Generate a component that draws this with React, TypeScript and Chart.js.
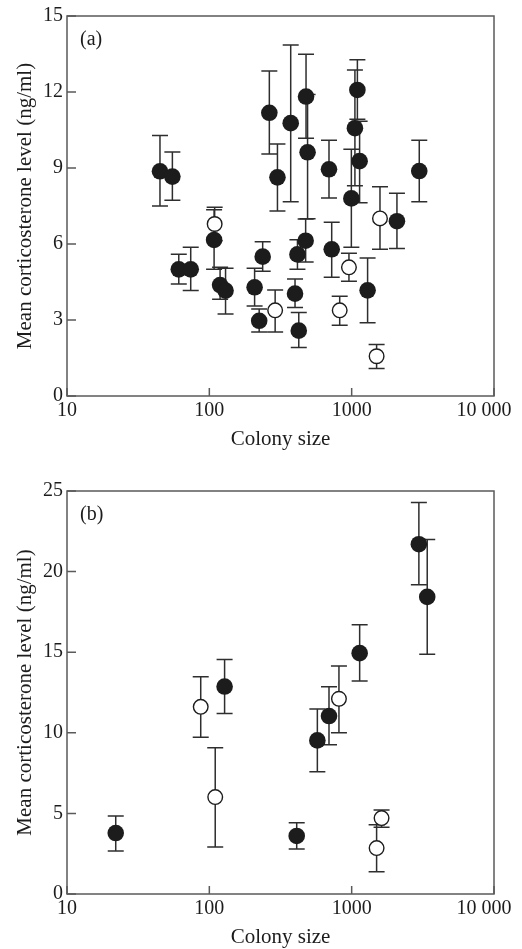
import React, { useEffect, useRef } from 'react';
import { Chart, registerables } from 'chart.js';

Chart.register(...registerables);

const SERIF = "'Liberation Serif', 'Times New Roman', serif";
const INK = '#1c1c1c';
const FRAME = '#5a5a5a';

// ---- shared axis data ----
const xTickValues = [10, 100, 1000, 10000];
const xTickLabels = ['10', '100', '1000', '10 000\u00a0\u00a0\u00a0\u00a0'];
const xTitle = 'Colony size';
const yTitle = 'Mean corticosterone level (ng/ml)';

// ---- panel (a) ----
const aYTicks = [0, 3, 6, 9, 12, 15];
const aFilledSize = [45, 55, 61, 74, 108, 119, 130, 208, 224, 237, 264, 301, 373, 400, 416, 425, 475, 478, 490, 693, 724, 995, 1054, 1097, 1137, 1294, 2080, 2985];
const aFilledMean = [8.87, 8.66, 5.0, 5.0, 6.16, 4.38, 4.16, 4.29, 2.97, 5.5, 11.18, 8.63, 10.77, 4.04, 5.59, 2.58, 6.13, 11.82, 9.62, 8.95, 5.79, 7.8, 10.57, 12.08, 9.27, 4.17, 6.9, 8.88];
const aFilledLow = [7.5, 7.73, 4.42, 4.16, 5.0, 3.82, 3.24, 3.55, 2.53, 4.92, 9.55, 7.3, 7.67, 3.49, 5.0, 1.91, 5.29, 10.17, 7.0, 7.82, 4.69, 5.87, 8.3, 10.92, 7.63, 2.89, 5.82, 7.67];
const aFilledHigh = [10.28, 9.63, 5.6, 5.87, 7.35, 5.08, 5.04, 5.04, 3.43, 6.09, 12.83, 9.95, 13.86, 4.62, 6.17, 3.3, 6.99, 13.49, 11.9, 10.1, 6.86, 9.74, 12.87, 13.27, 10.85, 5.45, 8.0, 10.1];
const aOpenSize = [109, 290, 824, 957, 1497, 1581];
const aOpenMean = [6.79, 3.38, 3.38, 5.08, 1.57, 7.01];
const aOpenLow = [6.13, 2.53, 2.79, 4.53, 1.09, 5.79];
const aOpenHigh = [7.45, 4.18, 3.94, 5.63, 2.03, 8.26];

// ---- panel (b) ----
const bYTicks = [0, 5, 10, 15, 20, 25];
const bFilledSize = [22, 128, 411, 574, 693, 1138, 2966, 3395];
const bFilledMean = [3.78, 12.87, 3.6, 9.53, 11.04, 14.94, 21.7, 18.43];
const bFilledLow = [2.67, 11.2, 2.79, 7.58, 9.26, 13.22, 19.18, 14.88];
const bFilledHigh = [4.84, 14.55, 4.42, 11.47, 12.85, 16.7, 24.28, 21.99];
const bOpenSize = [87, 110, 814, 1497, 1622];
const bOpenMean = [11.61, 6.01, 12.11, 2.85, 4.71];
const bOpenLow = [9.73, 2.91, 10.0, 1.38, 4.14];
const bOpenHigh = [13.47, 9.07, 14.15, 4.3, 5.21];

type Series = { x: number[]; y: number[]; lo: number[]; hi: number[] };

type PanelProps = {
  letter: string;
  yTicks: number[];
  filled: Series;
  open: Series;
  height: number;
  padTop: number;
};

const errorBarPlugin = {
  id: 'errorBars',
  beforeDatasetsDraw(chart: any) {
    const { ctx } = chart;
    const xs = chart.scales.x;
    const ys = chart.scales.y;
    ctx.save();
    ctx.strokeStyle = '#2e2e2e';
    ctx.lineWidth = 1.5;
    chart.data.datasets.forEach((ds: any) => {
      ds.data.forEach((p: any, i: number) => {
        const px = xs.getPixelForValue(p.x);
        const yl = ys.getPixelForValue(ds.errLo[i]);
        const yh = ys.getPixelForValue(ds.errHi[i]);
        ctx.beginPath();
        ctx.moveTo(px, yl);
        ctx.lineTo(px, yh);
        ctx.moveTo(px - 8, yl);
        ctx.lineTo(px + 8, yl);
        ctx.moveTo(px - 8, yh);
        ctx.lineTo(px + 8, yh);
        ctx.stroke();
      });
    });
    ctx.restore();
  },
};

const framePlugin = {
  id: 'frame',
  afterDraw(chart: any) {
    const { ctx, chartArea: a } = chart;
    const xs = chart.scales.x;
    const ys = chart.scales.y;
    ctx.save();
    ctx.strokeStyle = FRAME;
    ctx.lineWidth = 1.5;
    ctx.strokeRect(a.left, a.top, a.right - a.left, a.bottom - a.top);
    ctx.beginPath();
    ys.ticks.forEach((t: any) => {
      const py = ys.getPixelForValue(t.value);
      ctx.moveTo(a.left, py);
      ctx.lineTo(a.left + 9, py);
    });
    xs.ticks.forEach((t: any) => {
      const px = xs.getPixelForValue(t.value);
      ctx.moveTo(px, a.bottom);
      ctx.lineTo(px, a.bottom - 8);
    });
    ctx.stroke();
    const letter = chart.options.plugins.frame?.letter ?? '';
    ctx.fillStyle = INK;
    ctx.font = `20px ${SERIF}`;
    ctx.textAlign = 'left';
    ctx.textBaseline = 'middle';
    ctx.fillText(letter, a.left + 13, a.top + 24);
    ctx.restore();
  },
};

function Panel({ letter, yTicks, filled, open, height, padTop }: PanelProps) {
  const ref = useRef<HTMLCanvasElement | null>(null);
  useEffect(() => {
    if (!ref.current) return;
    const tickFont = { family: SERIF, size: 20 };
    const titleFont = { family: SERIF, size: 21 };
    const chart = new Chart(ref.current, {
      type: 'scatter',
      data: {
        datasets: [
          {
            label: 'open',
            data: open.x.map((x, i) => ({ x, y: open.y[i] })),
            pointRadius: 7.3,
            pointBackgroundColor: '#ffffff',
            pointBorderColor: INK,
            pointBorderWidth: 1.4,
            errLo: open.lo,
            errHi: open.hi,
          } as any,
          {
            label: 'filled',
            data: filled.x.map((x, i) => ({ x, y: filled.y[i] })),
            pointRadius: 8.3,
            pointBackgroundColor: INK,
            pointBorderColor: INK,
            pointBorderWidth: 0,
            errLo: filled.lo,
            errHi: filled.hi,
          } as any,
        ],
      },
      options: {
        responsive: false,
        animation: false,
        layout: { padding: { top: padTop, right: 28, left: 0, bottom: 0 } },
        plugins: {
          legend: { display: false },
          tooltip: { enabled: false },
          frame: { letter },
        } as any,
        scales: {
          x: {
            type: 'logarithmic',
            min: 10,
            max: 10000,
            afterBuildTicks: (s: any) => {
              s.ticks = xTickValues.map((v) => ({ value: v }));
            },
            afterFit: (s: any) => {
              s.height = 55;
              s.paddingLeft = 0;
              s.paddingRight = 0;
            },
            grid: { display: false, drawTicks: false },
            border: { display: false },
            ticks: {
              autoSkip: false,
              maxRotation: 0,
              padding: 3,
              color: INK,
              font: tickFont,
              callback: (v: any) => {
                const i = xTickValues.indexOf(Number(v));
                return i >= 0 ? xTickLabels[i] : '';
              },
            },
            title: {
              display: true,
              text: xTitle,
              color: INK,
              font: titleFont,
              padding: { top: 0, bottom: -1 },
            },
          },
          y: {
            type: 'linear',
            min: yTicks[0],
            max: yTicks[yTicks.length - 1],
            afterBuildTicks: (s: any) => {
              s.ticks = yTicks.map((v) => ({ value: v }));
            },
            afterFit: (s: any) => {
              s.width = 67;
              s.paddingTop = 0;
              s.paddingBottom = 0;
            },
            grid: { display: false, drawTicks: false },
            border: { display: false },
            ticks: {
              padding: 4,
              color: INK,
              font: tickFont,
            },
            title: {
              display: true,
              text: yTitle,
              color: INK,
              font: titleFont,
              padding: { top: 13, bottom: 0 },
            },
          },
        },
      },
      plugins: [errorBarPlugin, framePlugin],
    });
    return () => chart.destroy();
  }, []);
  return <canvas ref={ref} width={522} height={height} style={{ display: 'block', width: 522, height }} />;
}

export default function App() {
  return (
    <div style={{ position: 'absolute', left: 0, top: 0, width: 522, background: '#fff' }}>
      <Panel
        letter="(a)"
        yTicks={aYTicks}
        filled={{ x: aFilledSize, y: aFilledMean, lo: aFilledLow, hi: aFilledHigh }}
        open={{ x: aOpenSize, y: aOpenMean, lo: aOpenLow, hi: aOpenHigh }}
        height={451}
        padTop={16}
      />
      <Panel
        letter="(b)"
        yTicks={bYTicks}
        filled={{ x: bFilledSize, y: bFilledMean, lo: bFilledLow, hi: bFilledHigh }}
        open={{ x: bOpenSize, y: bOpenMean, lo: bOpenLow, hi: bOpenHigh }}
        height={498}
        padTop={40}
      />
    </div>
  );
}
